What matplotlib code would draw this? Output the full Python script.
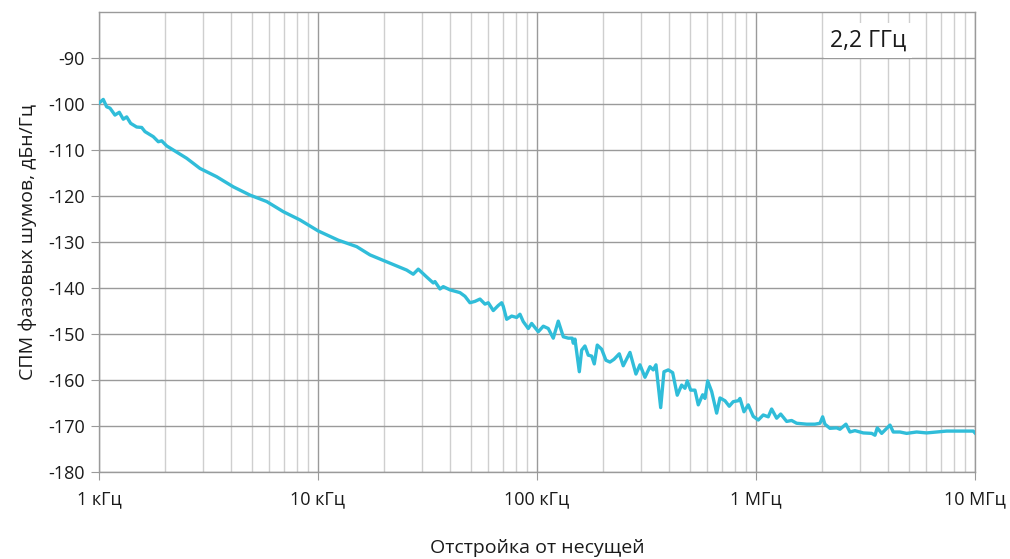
import numpy as np
import matplotlib.pyplot as plt

# offset frequency, kHz
freq_khz = [
    1.0, 1.046, 1.084, 1.123, 1.183, 1.238, 1.291, 1.338, 1.395, 1.486,
    1.567, 1.622, 1.770, 1.866, 1.933, 2.037, 2.184, 2.515, 2.891, 3.446,
    4.105, 4.893, 5.833, 6.943, 8.276, 10.03, 12.38, 15.02, 17.28, 19.87,
    22.88, 25.41, 27.23, 28.71, 31.35, 33.61, 34.21, 36.06, 37.33, 40.07,
    44.50, 46.91, 49.43, 52.12, 54.93, 57.89, 59.92, 63.17, 66.58, 69.0,
    70.17, 72.72, 76.65, 80.78, 83.64, 86.57, 91.27, 94.58, 101.4, 106.9,
    112.6, 118.7, 125.1, 131.9, 139.0, 144.9, 146.5, 149.1, 156.1, 160.0,
    165.6, 171.5, 177.8, 182.7, 188.5, 197.4, 206.5, 215.4, 224.7, 237.6,
    247.7, 265.9, 283.1, 295.3, 311.3, 328.1, 339.6, 349.5, 367.2, 380.1,
    397.7, 416.5, 437.1, 457.8, 474.0, 485.6, 503.3, 526.6, 545.2, 571.0,
    585.0, 601.9, 627.7, 661.5, 684.9, 721.8, 755.1, 787.5, 830.3, 845.3,
    881.5, 922.2, 971.8, 1024.5, 1079.7, 1138, 1179, 1243, 1297, 1381,
    1455, 1534, 1704, 1859, 1960, 2016, 2065, 2177, 2336, 2418,
    2576, 2686, 2831, 3090, 3376, 3495, 3581, 3750, 3953, 4093,
    4236, 4545, 4876, 5416, 6017, 6686, 7427, 8541, 9822, 10000,
]

# phase noise PSD, dBc/Hz
noise_db = [
    -99.8, -99.0, -100.6, -100.9, -102.4, -101.8, -103.3, -102.8, -104.2, -105.0,
    -105.1, -106.0, -107.1, -108.2, -108.0, -109.1, -110.0, -111.8, -114.0, -115.8,
    -118.0, -119.8, -121.2, -123.4, -125.2, -127.6, -129.6, -131.0, -132.8, -134.0,
    -135.2, -136.1, -137.0, -135.9, -137.6, -138.9, -138.6, -140.2, -139.7, -140.4,
    -141.0, -141.8, -143.2, -142.9, -142.4, -143.5, -143.2, -144.9, -143.8, -143.2,
    -144.0, -146.8, -146.1, -146.4, -145.7, -147.3, -148.8, -147.7, -149.5, -148.3,
    -148.8, -150.9, -147.2, -150.6, -150.9, -150.9, -152.0, -151.1, -158.2, -153.5,
    -152.6, -154.6, -154.8, -156.5, -152.4, -153.3, -155.7, -156.1, -155.5, -154.3,
    -156.9, -154.0, -158.7, -156.7, -159.4, -157.1, -157.8, -156.7, -166.0, -158.2,
    -157.8, -158.4, -163.3, -161.1, -161.8, -160.2, -162.2, -162.2, -165.4, -163.2,
    -164.0, -160.2, -162.5, -167.2, -163.9, -164.5, -165.7, -164.7, -164.5, -164.0,
    -166.9, -165.4, -167.9, -168.7, -167.6, -168.0, -166.3, -168.3, -167.4, -169.0,
    -168.8, -169.4, -169.6, -169.6, -169.4, -168.0, -169.6, -170.5, -170.4, -170.7,
    -169.6, -171.3, -171.0, -171.5, -171.6, -172.0, -170.4, -171.6, -170.5, -169.8,
    -171.3, -171.3, -171.6, -171.3, -171.5, -171.3, -171.1, -171.1, -171.1, -171.5,
]

xtick_hz = [1e3, 1e4, 1e5, 1e6, 1e7]
xtick_labels = ['1 кГц', '10 кГц', '100 кГц', '1 МГц', '10 МГц']
yticks = list(range(-180, -80, 10))

plt.rcParams['font.family'] = ['Open Sans', 'DejaVu Sans']
plt.rcParams['axes.unicode_minus'] = False

fig = plt.figure(figsize=(10.1, 5.59), dpi=100)
ax = fig.add_axes([0.098, 0.1556, 0.8673, 0.8229])

ax.plot(np.array(freq_khz) * 1e3, noise_db, color='#30bdd9', lw=2.4,
        solid_joinstyle='round', zorder=3)

ax.set_xscale('log')
ax.set_xlim(1e3, 1e7)
ax.set_ylim(-180, -80)
ax.set_xticks(xtick_hz)
ax.set_xticklabels(xtick_labels)
ax.set_yticks(yticks)

ax.grid(which='major', color='#9a9a9a', lw=1.0)
ax.grid(which='minor', axis='x', color='#cfcfcf', lw=1.0)
for s in ax.spines.values():
    s.set_color('#9a9a9a')
    s.set_linewidth(1.0)

ax.tick_params(which='major', length=6, color='#9a9a9a', labelsize=13,
               labelcolor='#1a1a1a', pad=4)
ax.tick_params(which='minor', length=0)
ax.tick_params(axis='x', pad=7)

ax.set_xlabel('Отстройка от несущей', fontsize=14, color='#1a1a1a', labelpad=22)
ax.set_ylabel('СПМ фазовых шумов, дБн/Гц', fontsize=14, color='#1a1a1a', labelpad=8)

ax.text(0.878, 0.937, '2,2 ГГц', transform=ax.transAxes, fontsize=16.5,
        ha='center', va='center', color='#1a1a1a', zorder=4,
        bbox=dict(facecolor='white', edgecolor='none', pad=4))

fig.savefig('out.png', dpi=100)
